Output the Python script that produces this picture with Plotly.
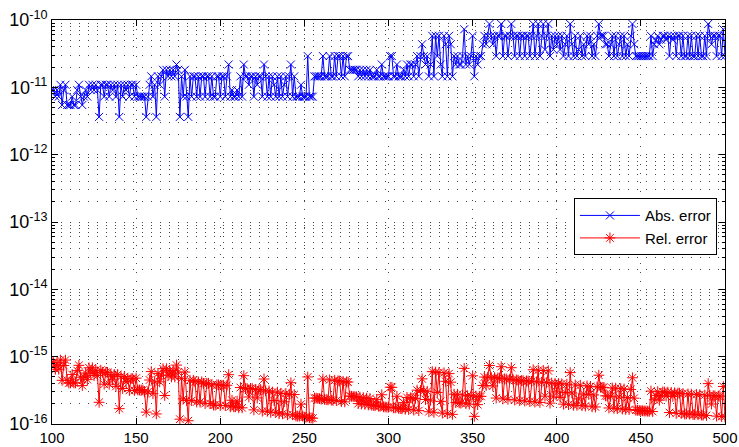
import plotly.graph_objects as go

# ---------------- data ----------------
x_values = list(range(100, 501))

# absolute error, in multiples of ULP (2^-39)
ULP = 1.819e-12
abs_err_ulps = [
    5, 5, 4, 5, 4, 6, 3, 5, 6, 3,
    3, 3, 4, 3, 3, 5, 6, 4, 3, 4,
    5, 4, 6, 5, 6, 5, 6, 5, 2, 6,
    6, 4, 6, 6, 4, 6, 5, 6, 4, 6,
    2, 6, 4, 6, 5, 6, 4, 6, 6, 4,
    6, 4, 4, 4, 4, 4, 2, 4, 6, 8,
    4, 6, 2, 8, 6, 8, 10, 4, 10, 8,
    10, 8, 10, 8, 12, 10, 2, 8, 4, 10,
    4, 2, 8, 4, 8, 8, 4, 8, 4, 8,
    8, 4, 8, 8, 4, 8, 4, 4, 8, 8,
    4, 8, 8, 4, 8, 12, 4, 5, 4, 4,
    5, 4, 8, 4, 12, 8, 8, 6, 8, 8,
    4, 8, 6, 8, 8, 4, 12, 8, 4, 8,
    4, 8, 6, 4, 8, 4, 8, 4, 6, 8,
    4, 8, 12, 4, 8, 4, 4, 4, 6, 4,
    4, 4, 16, 4, 4, 4, 8, 8, 8, 8,
    8, 16, 8, 8, 8, 16, 8, 8, 16, 8,
    16, 16, 8, 16, 8, 16, 16, 10, 10, 10,
    10, 10, 8, 10, 8, 10, 8, 10, 8, 10,
    8, 8, 8, 10, 8, 8, 12, 8, 8, 8,
    8, 16, 16, 8, 8, 12, 8, 8, 8, 10,
    8, 12, 8, 12, 12, 8, 12, 16, 8, 16,
    24, 16, 12, 16, 8, 12, 32, 8, 32, 16,
    32, 12, 8, 32, 24, 8, 32, 24, 8, 16,
    12, 16, 12, 12, 16, 40, 12, 16, 12, 16,
    32, 8, 16, 12, 16, 16, 24, 32, 24, 32,
    48, 32, 24, 32, 16, 32, 32, 48, 16, 32,
    32, 16, 32, 48, 32, 16, 32, 32, 16, 32,
    32, 16, 32, 32, 16, 32, 48, 16, 32, 48,
    16, 32, 48, 20, 32, 48, 16, 32, 20, 32,
    24, 32, 20, 32, 16, 24, 32, 16, 48, 24,
    16, 32, 16, 20, 32, 16, 24, 16, 32, 24,
    32, 16, 24, 16, 32, 48, 32, 32, 32, 24,
    24, 16, 24, 32, 16, 32, 16, 24, 32, 16,
    32, 16, 24, 16, 32, 48, 24, 16, 16, 16,
    16, 16, 16, 16, 16, 16, 32, 16, 24, 28,
    32, 24, 28, 32, 32, 28, 32, 16, 32, 28,
    32, 16, 32, 32, 16, 32, 16, 16, 32, 16,
    32, 16, 16, 32, 16, 32, 16, 16, 32, 16,
    48, 32, 24, 32, 32, 16, 32, 32, 16, 40, 16,
]

# relative error, in units of 1e-17
rel_err_e17 = [
    81.5, 81.5, 65, 81.5, 65, 89, 44.5, 74, 89, 44.5,
    40.7, 40.7, 54.2, 40.7, 40.7, 62, 74.4, 49.6, 37.2, 49.6,
    57, 45.6, 68.4, 57, 68.4, 52.5, 63, 52.5, 21, 63,
    58.6, 39, 58.6, 58.6, 39, 54.4, 45.3, 54.4, 36.2, 54.4,
    16.9, 50.6, 33.7, 50.6, 42.2, 47.2, 31.5, 47.2, 47.2, 31.5,
    48, 32, 32, 32, 32, 30, 15, 30, 45, 60,
    28.2, 42.3, 14.1, 56.4, 42.3, 53, 66.3, 26.5, 66.3, 53,
    62.5, 50, 62.5, 50, 75, 59, 11.8, 47.2, 23.6, 59,
    22.3, 11.2, 44.6, 22.3, 44.6, 42.3, 21.2, 42.3, 21.2, 42.3,
    40.2, 20.1, 40.2, 40.2, 20.1, 38.2, 19.1, 19.1, 38.2, 38.2,
    18.8, 37.6, 37.6, 18.8, 37.6, 54, 18, 22.5, 18, 18,
    21.8, 17.4, 34.8, 17.4, 52.2, 33.6, 33.6, 25.2, 33.6, 33.6,
    16.2, 32.5, 24.4, 32.5, 32.5, 15.5, 46.6, 31, 15.5, 31,
    14.9, 29.8, 22.3, 14.9, 29.8, 14.2, 28.5, 14.2, 21.4, 28.5,
    13.7, 27.4, 41, 13.7, 27.4, 13.1, 13.1, 13.1, 19.7, 13.1,
    12.6, 12.6, 50, 12.4, 12.3, 12.2, 24.3, 24.2, 24, 23.8,
    23.4, 46.6, 23.2, 23, 22.8, 45.2, 22.6, 22.4, 44.6, 22.2,
    43.8, 43.5, 21.6, 43, 21.3, 42.2, 42, 26, 25.8, 25.6,
    25.5, 25.3, 20.1, 25, 19.8, 24.6, 19.5, 24.2, 19.2, 23.9,
    19, 18.9, 18.7, 23.2, 18.4, 18.3, 27.2, 18, 17.9, 17.8,
    17.8, 35.2, 35, 17.4, 17.3, 25.8, 17.1, 17, 16.8, 20.8,
    16.6, 24.8, 16.4, 24.5, 24.3, 16.1, 24, 31.8, 15.8, 31.4,
    46.8, 31, 23.1, 30.6, 15.2, 22.6, 60, 14.9, 59, 29.4,
    58.2, 21.7, 14.5, 57.6, 43, 14.2, 56, 41.8, 13.9, 27.7,
    20.8, 27.6, 20.6, 20.4, 27, 67, 20, 26.4, 19.7, 26.1,
    52, 13, 26, 19.4, 25.8, 25.7, 37.4, 49.8, 37.2, 49.6,
    74, 49.1, 36.7, 48.8, 24.3, 48.3, 48, 71, 23.6, 46.8,
    46.6, 23.2, 46.2, 68.6, 45.6, 22.7, 45.1, 44.8, 22.2, 44.2,
    44, 21.9, 43.6, 43.4, 21.5, 43, 64, 21.2, 42.2, 63,
    20.9, 41.7, 62.4, 25.9, 41.2, 61.6, 20.4, 40.6, 25.3, 40.2,
    30, 39.9, 24.8, 39.6, 19.7, 29.4, 39, 19.4, 58, 28.9,
    19, 38, 18.9, 23.6, 37.6, 18.7, 27.9, 18.5, 36.8, 27.5,
    36.2, 18, 27, 17.9, 35.6, 53, 35.2, 35, 35, 26.2,
    26, 17.3, 25.8, 34.3, 17.1, 34, 16.9, 25.2, 33.5, 16.7,
    33.1, 16.5, 24.7, 16.4, 32.6, 48.6, 24.2, 16, 16, 15.9,
    15.8, 15.7, 15.6, 15.6, 15.5, 15.4, 30.8, 15.3, 22.9, 26.6,
    30.2, 22.6, 26.3, 30, 29.9, 26, 29.7, 14.8, 29.5, 25.7,
    29, 14.4, 28.8, 28.7, 14.3, 28.4, 14.1, 14.1, 28, 14,
    27.8, 13.8, 13.8, 27.5, 13.7, 27.3, 13.6, 13.5, 26.9, 13.4,
    39.8, 26.5, 19.8, 26.3, 26.2, 13.1, 26, 25.9, 12.9, 36, 12.8,
]

x_tick_vals = [100, 150, 200, 250, 300, 350, 400, 450, 500]
y_tick_exps = [-16, -15, -14, -13, -12, -11, -10]

abs_err = [m * ULP for m in abs_err_ulps]
rel_err = [r * 1e-17 for r in rel_err_e17]

y_tick_vals = [10.0 ** e for e in y_tick_exps]
y_tick_text = ["10<sup>%d</sup>" % e for e in y_tick_exps]
y_minor_vals = [k * 10.0 ** e for e in y_tick_exps[:-1] for k in range(2, 10)]

FONT = "Liberation Sans, Arial, Helvetica, sans-serif"
GRID = "rgb(70,70,70)"
DOTS = "1px,8px"

fig = go.Figure()
fig.add_trace(go.Scatter(
    x=x_values, y=abs_err, mode="lines+markers", name="Abs. error",
    line=dict(color="rgb(0,0,255)", width=1),
    marker=dict(symbol="x-thin-open", size=8, color="rgb(0,0,255)",
                line=dict(color="rgb(0,0,255)", width=1)),
))
fig.add_trace(go.Scatter(
    x=x_values, y=rel_err, mode="lines+markers", name="Rel. error",
    line=dict(color="rgb(255,0,0)", width=1),
    marker=dict(symbol="asterisk-open", size=9, color="rgb(255,0,0)",
                line=dict(color="rgb(255,0,0)", width=1)),
))

fig.update_layout(
    width=739, height=447,
    margin=dict(l=52, r=14, t=20, b=23, autoexpand=False),
    paper_bgcolor="white", plot_bgcolor="white",
    font=dict(family=FONT, color="black", size=15),
    showlegend=True,
    legend=dict(
        x=0.988, y=0.559, xanchor="right", yanchor="top",
        bgcolor="white", bordercolor="black", borderwidth=1,
        font=dict(family=FONT, size=15, color="black"),
        itemwidth=60, tracegroupgap=0,
    ),
    xaxis=dict(
        range=[100, 500], tickmode="array", tickvals=x_tick_vals,
        ticks="inside", ticklen=6, tickcolor="black", tickwidth=1,
        showline=True, linecolor="black", linewidth=1, mirror="ticks",
        showgrid=True, gridcolor=GRID, griddash=DOTS, gridwidth=1,
        zeroline=False, automargin=False,
        tickfont=dict(family=FONT, size=15),
    ),
    yaxis=dict(
        type="log", range=[-16, -10], tickmode="array",
        tickvals=y_tick_vals, ticktext=y_tick_text,
        ticks="inside", ticklen=6, tickcolor="black", tickwidth=1,
        showline=True, linecolor="black", linewidth=1, mirror="ticks",
        showgrid=True, gridcolor=GRID, griddash=DOTS, gridwidth=1,
        zeroline=False, automargin=False,
        tickfont=dict(family=FONT, size=18),
        minor=dict(tickmode="array", tickvals=y_minor_vals, ticks="inside",
                   ticklen=3, tickcolor="black", showgrid=True,
                   gridcolor=GRID, griddash=DOTS, gridwidth=1),
    ),
)

fig.write_html(
    "out.html",
    config={"displayModeBar": False},
    post_script="document.body.style.margin='0px';document.body.style.overflow='hidden';",
)
